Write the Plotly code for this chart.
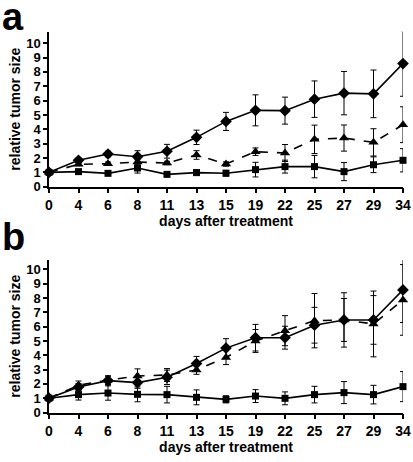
import plotly.graph_objects as go

days = ["0", "4", "6", "8", "11", "13", "15", "19", "22", "25", "27", "29", "34"]

a_diamond = [1.0, 1.84, 2.28, 2.09, 2.47, 3.44, 4.55, 5.32, 5.30, 6.10, 6.52, 6.47, 8.58]
a_diamond_err = [0, 0.15, 0.2, 0.42, 0.48, 0.5, 0.63, 1.08, 0.94, 1.27, 1.51, 1.66, 2.28]
a_triangle = [1.0, 1.56, 1.60, 1.72, 1.65, 2.21, 1.58, 2.44, 2.35, 3.30, 3.39, 3.09, 4.32]
a_triangle_err = [0, 0.1, 0.12, 0.15, 0.12, 0.3, 0.15, 0.26, 0.59, 0.99, 0.91, 0.95, 1.25]
a_square = [1.0, 1.05, 0.93, 1.30, 0.86, 0.98, 0.94, 1.19, 1.40, 1.40, 1.05, 1.53, 1.84]
a_square_err = [0, 0.1, 0.1, 0.35, 0.1, 0.2, 0.2, 0.51, 0.45, 0.78, 0.63, 0.55, 0.81]

b_diamond = [1.0, 1.78, 2.23, 2.09, 2.46, 3.42, 4.50, 5.23, 5.23, 6.10, 6.47, 6.47, 8.57]
b_diamond_err = [0, 0.25, 0.3, 0.4, 0.5, 0.5, 0.66, 0.93, 0.8, 1.25, 1.5, 1.7, 2.28]
b_triangle = [1.0, 1.9, 2.27, 2.55, 2.62, 2.97, 3.85, 5.0, 5.72, 6.42, 6.47, 6.19, 7.87]
b_triangle_err = [0, 0.3, 0.3, 0.5, 0.45, 0.3, 0.5, 0.8, 1.05, 1.9, 1.9, 2.3, 2.47]
b_square = [1.0, 1.25, 1.36, 1.27, 1.25, 1.06, 0.92, 1.15, 0.99, 1.25, 1.39, 1.25, 1.81]
b_square_err = [0, 0.38, 0.5, 0.52, 0.58, 0.52, 0.25, 0.45, 0.45, 0.58, 0.77, 0.65, 1.05]

y_ticks = list(range(0, 11))
xi = list(range(len(days)))

W, H = 413, 462
FONT = "Liberation Sans, Arial, sans-serif"

fig = go.Figure()


def add_series(y, err, symbol, size, dash, xa, ya):
    fig.add_trace(go.Scatter(
        x=xi, y=y, mode="lines+markers",
        line=dict(color="black", width=1.6, dash=dash),
        marker=dict(symbol=symbol, size=size, color="black"),
        error_y=dict(type="data", array=err, visible=True, color="black",
                     thickness=1, width=3),
        xaxis=xa, yaxis=ya, cliponaxis=False, showlegend=False,
    ))


add_series(a_square, a_square_err, "square", 7, "solid", "x", "y")
add_series(a_triangle, a_triangle_err, "triangle-up", 9, "dash", "x", "y")
add_series(a_diamond, a_diamond_err, "diamond", 9, "solid", "x", "y")

add_series(b_square, b_square_err, "square", 7, "solid", "x2", "y2")
add_series(b_triangle, b_triangle_err, "triangle-up", 9, "dash", "x2", "y2")
add_series(b_diamond, b_diamond_err, "diamond", 9, "solid", "x2", "y2")


def px_x(p):
    return p / W


def px_y(p):
    return 1 - p / H


xdom = [px_x(49), px_x(403)]
common_x = dict(
    domain=xdom, range=[0, len(days) - 1], tickmode="array", tickvals=xi,
    ticktext=days, showline=True, linecolor="black", linewidth=1.5,
    ticks="outside", ticklen=5, tickwidth=1.5, tickcolor="black",
    showgrid=False, zeroline=False, automargin=False,
    tickfont=dict(family=FONT, size=14, color="black", weight="bold"),
    title=dict(text="<b>days after treatment</b>", standoff=2,
               font=dict(family=FONT, size=14, color="black")),
)
common_y = dict(
    tickmode="array", tickvals=y_ticks, showline=True, linecolor="black",
    linewidth=1.5, ticks="outside", ticklen=4, tickwidth=1.5,
    tickcolor="black", showgrid=False, zeroline=False, automargin=False,
    tickfont=dict(family=FONT, size=13, color="black", weight="bold"),
    title=dict(text="<b>relative tumor size</b>", standoff=2,
               font=dict(family=FONT, size=14, color="black")),
)

fig.update_layout(
    width=W, height=H, margin=dict(l=0, r=0, t=0, b=0, autoexpand=False),
    paper_bgcolor="white", plot_bgcolor="white",
    xaxis=dict(common_x, anchor="y"),
    yaxis=dict(common_y, domain=[px_y(186.7), px_y(31.7)], range=[0, 10.8],
               anchor="x"),
    xaxis2=dict(common_x, anchor="y2"),
    yaxis2=dict(common_y, domain=[px_y(412.5), px_y(260)], range=[0, 10.66],
                anchor="x2"),
    annotations=[
        dict(text="<b>a</b>", x=0.0, y=px_y(17), xref="paper", yref="paper",
             xanchor="left", yanchor="middle", showarrow=False,
             font=dict(family=FONT, size=38, color="black")),
        dict(text="<b>b</b>", x=0.0, y=px_y(237), xref="paper", yref="paper",
             xanchor="left", yanchor="middle", showarrow=False,
             font=dict(family=FONT, size=38, color="black")),
    ],
)

fig.write_html(
    "out.html",
    config={"displayModeBar": False},
    post_script="document.body.style.margin='0';document.body.style.overflow='hidden';",
)
